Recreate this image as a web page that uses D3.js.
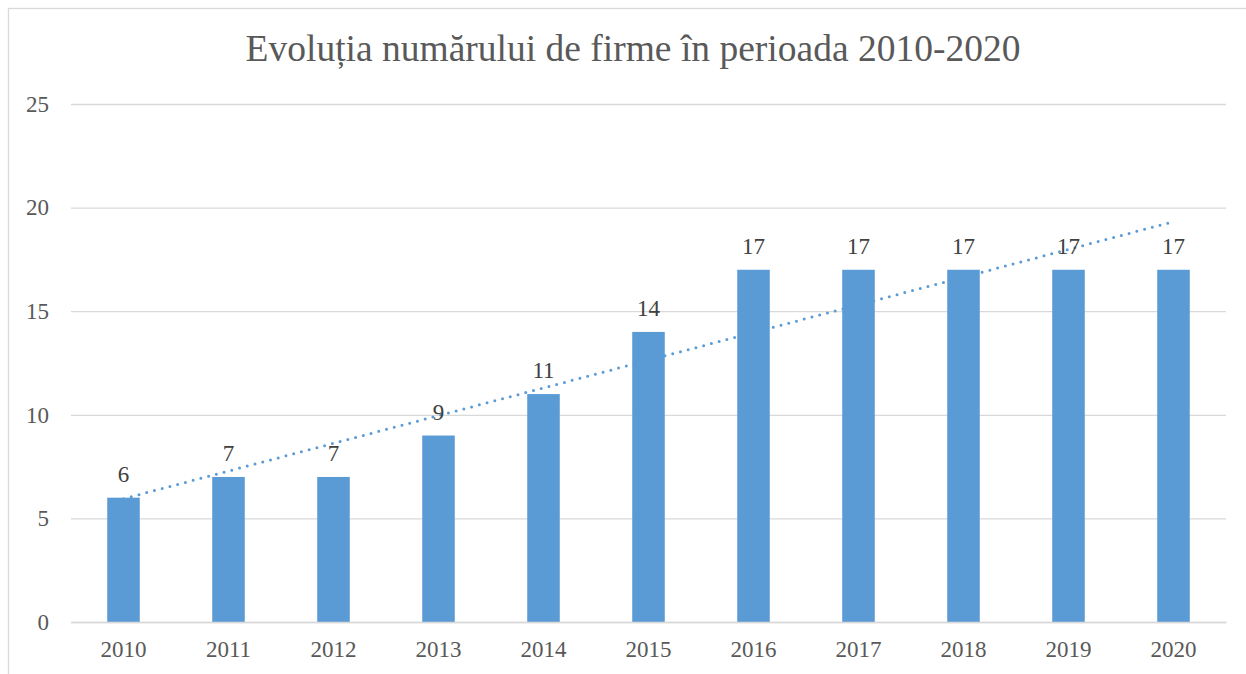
<!DOCTYPE html>
<html>
<head>
<meta charset="utf-8">
<script src="https://cdn.jsdelivr.net/npm/d3@7"></script>
<style>
  body { margin: 0; background: #fff; }
  svg text { font-family: "Liberation Serif", "Times New Roman", serif; }
</style>
</head>
<body>
<div id="chart"></div>
<script>
// values
var years  = ['2010', '2011', '2012', '2013', '2014', '2015', '2016', '2017', '2018', '2019', '2020'];
var firms  = [6, 7, 7, 9, 11, 14, 17, 17, 17, 17, 17];
var yTicks = [0, 5, 10, 15, 20, 25];
// linear trendline, value at first and last year
var trendYears  = ['2010', '2020'];
var trendValues = [5.95, 19.32];

var title = 'Evoluția numărului de firme în perioada 2010-2020';

const W = 1246, H = 674;
const margin = {left: 71, right: 20, top: 104, bottom: 52};
const width  = 1226 - margin.left;
const height = 622 - margin.top;

var svg = d3.select('#chart').append('svg')
    .attr('width', W)
    .attr('height', H);

// chart frame (right and bottom edges fall outside the picture)
svg.append('rect')
    .attr('x', 8.5).attr('y', 8.5)
    .attr('width', W + 20).attr('height', H + 20)
    .attr('fill', 'none')
    .attr('stroke', '#d9d9d9')
    .attr('stroke-width', 1.3);

svg.append('text')
    .attr('x', 633)
    .attr('y', 61)
    .attr('text-anchor', 'middle')
    .attr('fill', '#595959')
    .style('font-size', '37.5px')
    .text(title);

var g = svg.append('g')
    .attr('transform', 'translate(' + margin.left + ',' + margin.top + ')');

var x = d3.scaleBand().domain(years).range([0, width]).paddingInner(0.69).paddingOuter(0.345);
var y = d3.scaleLinear().domain([0, 25]).range([height, 0]);

// grid
g.append('g')
    .call(d3.axisLeft(y).tickValues(yTicks).tickSize(-width).tickFormat(''))
    .call(function(s) {
        s.select('.domain').remove();
        s.selectAll('line').attr('stroke', '#d9d9d9').attr('stroke-width', 1.3);
    });

// y tick labels
g.append('g')
    .call(d3.axisLeft(y).tickValues(yTicks).tickSize(0).tickPadding(22))
    .call(function(s) {
        s.select('.domain').remove();
        s.selectAll('text')
            .attr('fill', '#595959')
            .style('font-size', '23px')
            .style('font-family', '"Liberation Serif", "Times New Roman", serif');
    });

// bars
g.selectAll('rect.bar')
    .data(firms)
    .enter().append('rect')
    .attr('class', 'bar')
    .attr('x', function(d, i) { return x(years[i]); })
    .attr('y', function(d) { return y(d); })
    .attr('width', x.bandwidth())
    .attr('height', function(d) { return height - y(d); })
    .attr('fill', '#5b9bd5');

// x axis baseline and labels
g.append('g')
    .attr('transform', 'translate(0,' + height + ')')
    .call(d3.axisBottom(x).tickSize(0).tickPadding(19))
    .call(function(s) {
        s.select('.domain').attr('stroke', '#d9d9d9').attr('stroke-width', 1.3);
        s.selectAll('text')
            .attr('fill', '#595959')
            .style('font-size', '23px')
            .style('font-family', '"Liberation Serif", "Times New Roman", serif');
    });

// trendline
var trend = d3.line()
    .x(function(d, i) { return x(trendYears[i]) + x.bandwidth() / 2; })
    .y(function(d) { return y(d); });

g.append('path')
    .datum(trendValues)
    .attr('d', trend)
    .attr('fill', 'none')
    .attr('stroke', '#5b9bd5')
    .attr('stroke-width', 3)
    .attr('stroke-linecap', 'round')
    .attr('stroke-dasharray', '0 8');

// data labels
g.selectAll('text.lbl')
    .data(firms)
    .enter().append('text')
    .attr('class', 'lbl')
    .attr('x', function(d, i) { return x(years[i]) + x.bandwidth() / 2; })
    .attr('y', function(d) { return y(d) - 16; })
    .attr('text-anchor', 'middle')
    .attr('fill', '#404040')
    .style('font-size', '23px')
    .text(function(d) { return d; });
</script>
</body>
</html>
